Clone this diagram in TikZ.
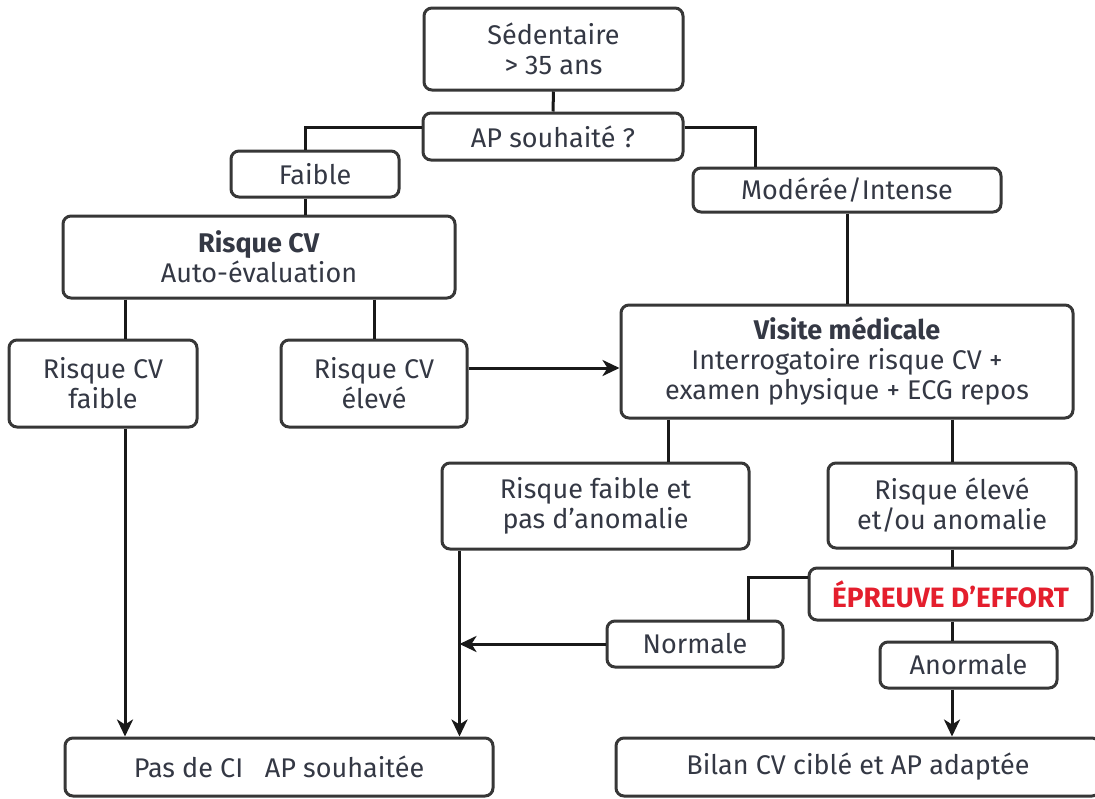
\documentclass[tikz,border=0pt]{standalone}
\usepackage{fontspec}
\setmainfont{Fira Sans}
\usetikzlibrary{arrows.meta}
\definecolor{txt}{RGB}{52,56,68}
\definecolor{boxc}{RGB}{55,55,55}
\definecolor{linec}{RGB}{25,25,25}
\definecolor{redt}{RGB}{228,30,45}
\tikzset{
  box/.style={draw=boxc, line width=3pt, rounded corners=8pt, fill=white,
    text=txt, align=center, inner sep=0pt,
    font=\fontsize{27}{30}\selectfont},
  conn/.style={draw=linec, line width=3pt},
  arr/.style={conn, -{Stealth[length=17pt,width=16pt,inset=5pt]}}
}
\begin{document}
\begin{tikzpicture}[x=1pt,y=-1pt]
\clip (0,0) rectangle (1095,798);
\fill[white] (0,0) rectangle (1095,798);

\node[box, minimum width=259pt, minimum height=82pt] (sed) at (553.5,49) {Sédentaire\\> 35 ans};
\node[box, minimum width=260pt, minimum height=47pt] (ap) at (553,136.5) {AP souhaité ?};
\node[box, minimum width=168pt, minimum height=46pt] (faible) at (315,174) {Faible};
\node[box, minimum width=308pt, minimum height=44pt] (mod) at (847,190) {Modérée/Intense};
\node[box, minimum width=392pt, minimum height=82pt] (rcv) at (259,257) {\textbf{Risque CV}\\Auto-évaluation};
\node[box, minimum width=188pt, minimum height=87pt] (rcvf) at (103,383.5) {Risque CV\\faible};
\node[box, minimum width=186pt, minimum height=87pt] (rcve) at (374,383.5) {Risque CV\\élevé};
\node[box, minimum width=452pt, minimum height=113pt] (visite) at (847,361.5) {\textbf{Visite médicale}\\Interrogatoire risque CV +\\examen physique + ECG repos};
\node[box, minimum width=307pt, minimum height=86pt] (rfaible) at (595.5,506) {Risque faible et\\pas d’anomalie};
\node[box, minimum width=248pt, minimum height=85pt] (relev) at (952,505.5) {Risque élevé\\et/ou anomalie};
\node[box, minimum width=283pt, minimum height=52pt, text=redt, font=\fontsize{28}{30}\selectfont\bfseries] (epreuve) at (950.5,594) {ÉPREUVE D’EFFORT};
\node[box, minimum width=176pt, minimum height=46pt] (normale) at (695,644) {Normale};
\node[box, minimum width=177pt, minimum height=46pt] (anormale) at (968.5,665) {Anormale};
\node[box, minimum width=428pt, minimum height=58pt] (pasci) at (279,767) {Pas de CI\hspace{0.8em}AP souhaitée};
\node[box, minimum width=484pt, minimum height=58pt] (bilan) at (858,767) {Bilan CV ciblé et AP adaptée};

\coordinate (j) at ([xshift=19pt]rfaible.south west);

% connectors
\draw[conn] (sed.south) -- (ap.north);
\draw[conn] ([yshift=9.5pt]ap.west) -| ([xshift=-10pt]faible.north);
\draw[conn] ([yshift=9.5pt]ap.east) -| ([xshift=-92pt]mod.north);
\draw[conn] ([xshift=-10pt]faible.south) -- ([xshift=-10pt]faible.south |- rcv.north);
\draw[conn] (mod.south) -- (mod.south |- visite.north);
\draw[conn] ([xshift=22pt]rcvf.north |- rcv.south) -- ([xshift=22pt]rcvf.north);
\draw[conn] (rcve.north |- rcv.south) -- (rcve.north);
\draw[arr] ([yshift=15.5pt]rcve.east) -- ([yshift=15.5pt]rcve.east -| visite.west);
\draw[conn] ([xshift=72.5pt]rfaible.north |- visite.south) -- ([xshift=72.5pt]rfaible.north);
\draw[conn] (relev.north |- visite.south) -- (relev.north);
\draw[conn] (relev.south) -- (relev.south |- epreuve.north);
\draw[conn] ([yshift=17pt]epreuve.west) -| ([xshift=53pt]normale.north);
\draw[conn] (relev.south |- epreuve.south) -- (relev.south |- anormale.north);
\draw[arr] (relev.south |- anormale.south) -- (relev.south |- bilan.north);
\draw[arr] ([xshift=22pt]rcvf.south) -- ([xshift=22pt]rcvf.south |- pasci.north);
\draw[arr] (j) -- (j |- pasci.north);
\draw[arr] (normale.west) -- (normale.west -| j);
\end{tikzpicture}
\end{document}
